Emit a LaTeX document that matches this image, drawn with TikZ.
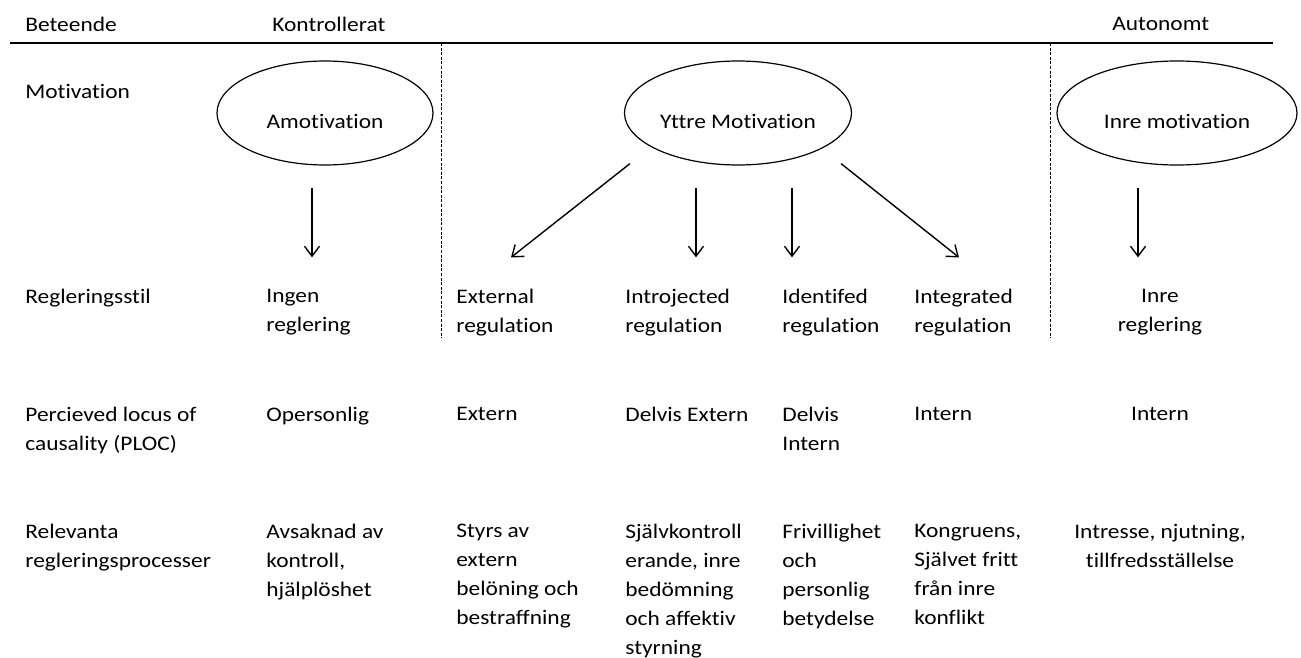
\documentclass[tikz,border=0pt]{standalone}
\usepackage{fontspec}
\setmainfont{Carlito}[FakeStretch=1.13, Ligatures=NoCommon]
\usetikzlibrary{arrows.meta,shapes,calc}

\begin{document}
\begin{tikzpicture}[x=0.5pt, y=-0.5pt,
    >={Straight Barb[length=5pt,width=7.5pt]},
    txt/.style={font=\fontsize{10.35}{14.5}\selectfont, inner sep=0pt, align=left,
                anchor=north west, yshift=6.8pt},
    ctxt/.style={txt, align=center, anchor=north},
    motiv/.style={ellipse, draw, line width=0.6pt, inner sep=0pt, minimum height=52pt,
                  font=\fontsize{10.35}{14.5}\selectfont, text height=15pt, text depth=0pt},
    arr/.style={->, line width=0.7pt},
    divider/.style={line width=0.4pt, dash pattern=on 1.5pt off 0.8pt}]
  \useasboundingbox (0,0) rectangle (1301,658);

  % header
  \node[txt] (beteende) at (25,30) {Beteende};
  \node[txt] (kontr) at (272,30) {Kontrollerat};
  \node[txt] (auton) at (1112,30) {Autonomt};
  \draw[line width=1pt] (10,43) -- (1273,43);
  \draw[divider] (441,43) -- (441,338);
  \draw[divider] (1050,43) -- (1050,338);

  % motivation row
  \node[txt] (motivation) at (25,97) {Motivation};
  \node[motiv, minimum width=108pt] (amot) at (325,113) {Amotivation};
  \node[motiv, minimum width=113.5pt] (yttre) at (738,113) {Yttre Motivation};
  \node[motiv, minimum width=120pt] (inre) at (1177,113) {Inre motivation};

  % regleringsstil
  \node[txt] (stil) at (25,302) {Regleringsstil};
  \node[txt] (ingen) at (266,302) {Ingen\\reglering};
  \node[txt] (extreg) at (456,302) {External\\regulation};
  \node[txt] (introreg) at (625,302) {Introjected\\regulation};
  \node[txt] (identreg) at (782,302) {Identifed\\regulation};
  \node[txt] (integreg) at (914,302) {Integrated\\regulation};
  \node[ctxt] (inrereg) at (1160,302) {Inre\\reglering};

  % PLOC
  \node[txt] (ploc) at (25,420) {Percieved locus of\\causality (PLOC)};
  \node[txt] (opers) at (266,420) {Opersonlig};
  \node[txt] (extern) at (456,420) {Extern};
  \node[txt] (dext) at (625,420) {Delvis Extern};
  \node[txt] (dint) at (782,420) {Delvis\\Intern};
  \node[txt] (intern) at (914,420) {Intern};
  \node[ctxt] (intern2) at (1160,420) {Intern};

  % processer
  \node[txt] (relev) at (25,537) {Relevanta\\regleringsprocesser};
  \node[txt] (avs) at (266,537) {Avsaknad av\\kontroll,\\hjälplöshet};
  \node[txt] (styrs) at (456,537) {Styrs av\\extern\\belöning och\\bestraffning};
  \node[txt] (sjk) at (625,537) {Självkontroll\\erande, inre\\bedömning\\och affektiv\\styrning};
  \node[txt] (friv) at (782,537) {Frivillighet\\och\\personlig\\betydelse};
  \node[txt] (kongr) at (914,537) {Kongruens,\\Självet fritt\\från inre\\konflikt};
  \node[ctxt] (intr) at (1160,537) {Intresse, njutning,\\tillfredsställelse};

  % arrows
  \draw[arr] ($(amot.south)+(-13,22)$) -- ($(ingen.north west)+(46,-31)$);
  \draw[arr] ($(yttre.south)+(-108,-2)$) -- ($(extreg.north west)+(55,-31)$);
  \draw[arr] ($(yttre.south)+(-42,22)$) -- ($(introreg.north west)+(71,-31)$);
  \draw[arr] ($(yttre.south)+(54,22)$) -- ($(identreg.north west)+(10,-31)$);
  \draw[arr] ($(yttre.south)+(103,-2)$) -- ($(integreg.north west)+(45,-31)$);
  \draw[arr] ($(inre.south)+(-39,22)$) -- ($(inrereg.north)+(-22,-31)$);
\end{tikzpicture}
\end{document}
